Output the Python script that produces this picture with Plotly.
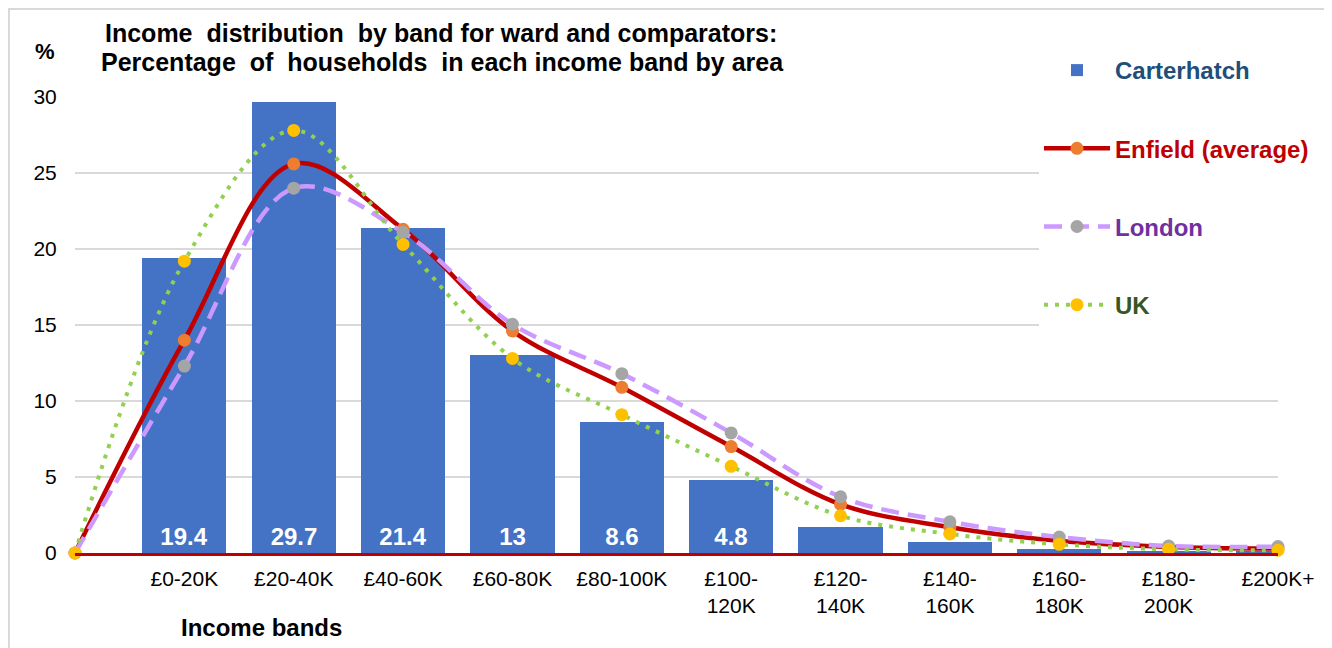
import plotly.graph_objects as go

# ---- data ----
bands = ["", "£0-20K", "£20-40K", "£40-60K", "£60-80K", "£80-100K", "£100-<br>120K",
         "£120-<br>140K", "£140-<br>160K", "£160-<br>180K", "£180-<br>200K", "£200K+"]
carterhatch = [0, 19.4, 29.7, 21.4, 13, 8.6, 4.8, 1.7, 0.7, 0.25, 0.1, 0.1]
carterhatch_labels = ["", "19.4", "29.7", "21.4", "13", "8.6", "4.8", "", "", "", "", ""]
enfield = [0, 14.0, 25.6, 21.3, 14.6, 10.9, 7.0, 3.2, 1.7, 0.8, 0.4, 0.3]
london = [0, 12.3, 24.0, 21.1, 15.05, 11.8, 7.9, 3.7, 2.05, 1.05, 0.46, 0.42]
uk = [0, 19.2, 27.8, 20.3, 12.8, 9.1, 5.7, 2.45, 1.25, 0.57, 0.24, 0.18]
yticks = [0, 5, 10, 15, 20, 25, 30]

OFF = 8  # page body margin
W, H = 1332 - OFF, 648 - OFF
L, R, T, B = 75 - OFF, 1278 - OFF, 97 - OFF, 553 - OFF


def px(x):
    return (x - OFF - L) / (R - L)


def py(y):
    return (B - (y - OFF)) / (B - T)


FONT = "Liberation Sans, Arial, sans-serif"
xs = list(range(len(bands)))

fig = go.Figure()
fig.add_trace(go.Bar(
    x=xs, y=carterhatch, width=0.77,
    name="<span style='color:#1F4E79'>Carterhatch</span>",
    legendgroup="a",
    marker=dict(color="#4472C4", line=dict(width=0)),
    text=carterhatch_labels, textposition="inside", insidetextanchor="start",
    textangle=0,
    textfont=dict(family=FONT, size=24, color="white", weight="bold"),
))
fig.add_trace(go.Scatter(
    x=xs, y=enfield, mode="lines+markers", line_shape="spline",
    name="<span style='color:#C00000'>Enfield (average)</span>",
    legendgroup="b", cliponaxis=False,
    line=dict(color="#C00000", width=4.5, smoothing=1),
    marker=dict(color="#ED7D31", size=13),
))
fig.add_trace(go.Scatter(
    x=xs, y=london, mode="lines+markers", line_shape="spline",
    name="<span style='color:#7030A0'>London</span>",
    legendgroup="c", cliponaxis=False,
    line=dict(color="#CC99FF", width=4.5, dash="18px,9px", smoothing=1),
    marker=dict(color="#A5A5A5", size=13),
))
fig.add_trace(go.Scatter(
    x=xs, y=uk, mode="lines+markers", line_shape="spline",
    name="<span style='color:#375623'>UK</span>",
    legendgroup="d", cliponaxis=False,
    line=dict(color="#92D050", width=4, dash="4px,7px", smoothing=1),
    marker=dict(color="#FFC000", size=13),
))

fig.update_layout(
    width=W, height=H,
    margin=dict(l=L, r=W - R, t=T, b=H - B, pad=0),
    paper_bgcolor="white", plot_bgcolor="white",
    font=dict(family=FONT, color="#000000"),
    showlegend=True,
    bargap=0,
    legend=dict(
        x=px(1039), y=py(48), xanchor="left", yanchor="top",
        bgcolor="white", traceorder="grouped", tracegroupgap=44,
        font=dict(family=FONT, size=24, weight="bold"),
        itemwidth=66,
    ),
    xaxis=dict(
        range=[0, len(bands) - 1], tickmode="array", tickvals=xs, ticktext=bands,
        tickangle=0,
        tickfont=dict(family=FONT, size=21, color="#000000"),
        showgrid=False, zeroline=False,
        showline=True, linecolor="#C00000", linewidth=2.5,
        ticks="outside", ticklen=5, tickcolor="rgba(0,0,0,0)",
    ),
    yaxis=dict(
        range=[0, 30], tickmode="array", tickvals=yticks,
        tickfont=dict(family=FONT, size=21, color="#000000"),
        showgrid=True, gridcolor="#D9D9D9", gridwidth=2,
        zeroline=False, showline=False,
        ticks="outside", ticklen=13, tickcolor="rgba(0,0,0,0)",
    ),
    annotations=[
        dict(text="Income\u00a0 distribution\u00a0 by band for ward and comparators:",
             x=px(441), y=py(33), xref="paper", yref="paper", showarrow=False,
             xanchor="center", yanchor="middle",
             font=dict(family=FONT, size=25, weight="bold", color="#000000")),
        dict(text="Percentage\u00a0 of\u00a0 households\u00a0 in each income band by area",
             x=px(442), y=py(62), xref="paper", yref="paper", showarrow=False,
             xanchor="center", yanchor="middle",
             font=dict(family=FONT, size=25, weight="bold", color="#000000")),
        dict(text="%", x=px(45), y=py(51), xref="paper", yref="paper", showarrow=False,
             xanchor="center", yanchor="middle",
             font=dict(family=FONT, size=22, weight="bold", color="#000000")),
        dict(text="Income bands", x=px(261), y=py(627), xref="paper", yref="paper",
             showarrow=False, xanchor="center", yanchor="middle",
             font=dict(family=FONT, size=24, weight="bold", color="#000000")),
    ],
    shapes=[
        dict(type="rect", xref="paper", yref="paper",
             x0=px(9), x1=px(1330), y0=py(660), y1=py(9),
             line=dict(color="#D9D9D9", width=2), fillcolor="rgba(0,0,0,0)",
             layer="below"),
    ],
)

fig.write_html("out.html")
